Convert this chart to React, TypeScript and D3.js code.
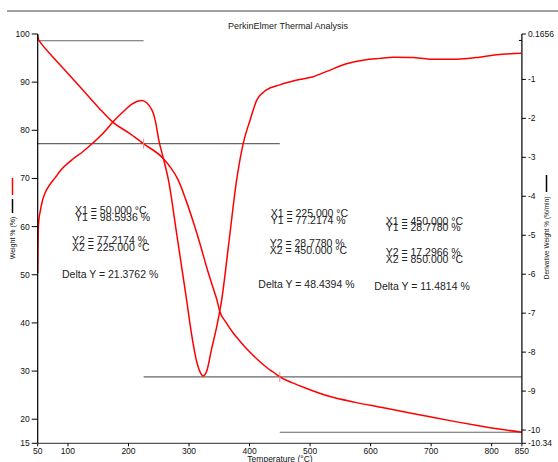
import React from "react";
import * as d3 from "d3";

const W = 558;
const H = 462;

// Weight % (TG) curve: [temperature °C, weight %]
const tgTemp = [50, 51, 53, 56, 75, 100, 125, 150, 175, 200, 225, 257, 270, 282, 295, 307, 318, 330, 340, 346, 351, 360, 373, 387, 400, 414, 428, 440, 450, 470, 490, 533, 575, 616, 657, 698, 740, 781, 815, 850];
const tgWeight = [99.9, 99.0, 98.5, 98.0, 95.2, 91.8, 88.3, 84.8, 81.6, 79.5, 77.2, 74.2, 72.2, 69.7, 65.5, 61.0, 56.5, 51.2, 47.2, 44.8, 42.3, 40.3, 37.9, 35.8, 34.0, 32.3, 30.8, 29.7, 28.8, 27.6, 26.6, 24.7, 23.5, 22.5, 21.5, 20.5, 19.5, 18.6, 17.9, 17.3];

// Derivative weight (DTG) curve: [temperature °C, %/min]
const dtgTemp = [50, 50.3, 50.8, 52, 54, 58, 62, 70, 79, 87, 106, 125, 142, 160, 175, 190, 205, 215, 222, 230, 237, 241, 244, 250, 257.5, 266, 280, 296, 304, 312, 318, 323.5, 330, 337, 345.7, 354, 365, 378.7, 389.6, 401, 412, 428, 450, 475, 505, 530, 560, 590, 615, 637, 670, 698, 742, 780, 808, 849];
const dtgValue = [-5.97, -5.4, -4.9, -4.6, -4.4, -4.1, -3.92, -3.7, -3.52, -3.35, -3.07, -2.85, -2.62, -2.35, -2.08, -1.85, -1.64, -1.56, -1.54, -1.6, -1.74, -1.87, -2.04, -2.55, -3.02, -3.58, -5.0, -6.66, -7.52, -8.2, -8.5, -8.61, -8.45, -7.94, -7.35, -6.66, -5.3, -3.58, -2.64, -2.04, -1.53, -1.27, -1.14, -1.03, -0.93, -0.78, -0.6, -0.5, -0.46, -0.43, -0.44, -0.48, -0.48, -0.43, -0.37, -0.33];

// Delta Y analysis reference lines: [from °C, to °C, weight %]
const refFrom = [50, 50, 225, 450];
const refTo = [225, 450, 850, 850];
const refWeight = [98.5936, 77.2174, 28.778, 17.2966];

// Marker ticks on the TG curve
const markTemp = [225, 450];
const markWeight = [77.2174, 28.778];

const xTicks = [50, 100, 200, 300, 400, 500, 600, 700, 800, 850];
const yLeftTicks = [100, 90, 80, 70, 60, 50, 40, 30, 20, 15];
const yRightTicks = [0.1656, -1, -2, -3, -4, -5, -6, -7, -8, -9, -10, -10.34];
const yRightLabels = ["0.1656", "-1", "-2", "-3", "-4", "-5", "-6", "-7", "-8", "-9", "-10", "-10.34"];

// Annotation blocks
const blocks = [
  { lines: ["X1 = 50.000 °C", "Y1 = 98.5936 %", "Y2 = 77.2174 %", "X2 = 225.000 °C"], delta: "Delta Y = 21.3762 %" },
  { lines: ["X1 = 225.000 °C", "Y1 = 77.2174 %", "Y2 = 28.7780 %", "X2 = 450.000 °C"], delta: "Delta Y = 48.4394 %" },
  { lines: ["X1 = 450.000 °C", "Y1 = 28.7780 %", "Y2 = 17.2966 %", "X2 = 850.000 °C"], delta: "Delta Y = 11.4814 %" },
];

const FONT = "'Liberation Sans', Arial, sans-serif";

export default function App() {
  const x = d3.scaleLinear().domain([50, 850]).range([37.7, 521.9]);
  const yL = d3.scaleLinear().domain([15, 100]).range([443.3, 34]);
  const yR = d3.scaleLinear().domain([-10.34, 0.1656]).range([443.3, 34]);

  const tgLine = d3
    .line<number>()
    .x((_, i) => x(tgTemp[i]))
    .y((_, i) => yL(tgWeight[i]))
    .curve(d3.curveMonotoneX);
  const dtgLine = d3
    .line<number>()
    .x((_, i) => x(dtgTemp[i]))
    .y((_, i) => yR(dtgValue[i]))
    .curve(d3.curveMonotoneX);

  const blockPos = [
    { x: 75, y: [213.5, 220.8, 244.2, 251.2], dx: -13, dy: 277.5, lx: [0, 0, -3, -3] },
    { x: 270.7, y: [216.8, 223.5, 246.8, 254.2], dx: -12.4, dy: 287.8, lx: [0, 0, -1, -1] },
    { x: 385.7, y: [225.2, 231.2, 255.5, 262.5], dx: -11.4, dy: 290.2, lx: [0, 0, 0, 0] },
  ];

  const x0 = x(50);
  const x1 = x(850);
  const yb = yL(15);
  const yt = yL(100);

  return (
    <div style={{ position: "absolute", left: 0, top: 0 }}>
      <svg width={W} height={H} style={{ display: "block", background: "#fff" }} fontFamily={FONT}>
        <line x1={7} x2={558} y1={11} y2={11} stroke="#444" strokeWidth={1} />
        <text x={288} y={29} fontSize={9} textAnchor="middle" fill="#222">
          PerkinElmer Thermal Analysis
        </text>

        {/* reference lines */}
        {refFrom.map((f, i) => (
          <line key={"r" + i} x1={x(f)} x2={x(refTo[i])} y1={yL(refWeight[i])} y2={yL(refWeight[i])} stroke="#666" strokeWidth={1.2} />
        ))}

        {/* curves */}
        <path d={tgLine(tgTemp) || ""} fill="none" stroke="#ff0000" strokeWidth={1.5} />
        <path d={dtgLine(dtgTemp) || ""} fill="none" stroke="#ff0000" strokeWidth={1.5} />

        {markTemp.map((t, i) => (
          <line key={"m" + i} x1={x(t)} x2={x(t)} y1={yL(markWeight[i]) - 5} y2={yL(markWeight[i]) + 5} stroke="#e88" strokeWidth={1} />
        ))}

        {/* left axis */}
        <line x1={x0} x2={x0} y1={yt} y2={yb} stroke="#000" strokeWidth={1.2} />
        {yLeftTicks.map((v) => (
          <g key={"yl" + v}>
            <line x1={x0 - 6} x2={x0} y1={yL(v)} y2={yL(v)} stroke="#000" />
            <text x={x0 - 8} y={yL(v) + 3} fontSize={8.5} textAnchor="end" fill="#111">
              {v}
            </text>
          </g>
        ))}

        {/* right axis */}
        <line x1={x1} x2={x1} y1={yt} y2={yb} stroke="#000" strokeWidth={1.2} />
        <line x1={x1} x2={x1 - 3} y1={yR(0)} y2={yR(0)} stroke="#000" />
        {yRightTicks.map((v, i) => (
          <g key={"yr" + i}>
            <line x1={x1} x2={x1 + 4} y1={yR(v)} y2={yR(v)} stroke="#000" />
            <text x={x1 + 6} y={yR(v) + 3} fontSize={8.5} textAnchor="start" fill="#111">
              {yRightLabels[i]}
            </text>
          </g>
        ))}

        {/* bottom axis */}
        <line x1={x0} x2={x1} y1={yb} y2={yb} stroke="#555" strokeWidth={1.2} />
        {xTicks.map((v) => (
          <g key={"x" + v}>
            <line x1={x(v)} x2={x(v)} y1={yb} y2={yb + 3} stroke="#000" />
            <text x={x(v)} y={454} fontSize={8.5} textAnchor="middle" fill="#111">
              {v}
            </text>
          </g>
        ))}
        <text x={280} y={461.5} fontSize={8.5} textAnchor="middle" fill="#111">
          Temperature (°C)
        </text>

        {/* left axis title with legend marks */}
        <line x1={12.5} x2={12.5} y1={178} y2={195} stroke="#ff0000" strokeWidth={1.5} />
        <line x1={12.5} x2={12.5} y1={199} y2={213} stroke="#000" strokeWidth={1.5} />
        <text transform="translate(15.2,238) rotate(-90)" fontSize={7} textAnchor="middle" fill="#111">
          Weight % (%)
        </text>

        {/* right axis title with legend mark */}
        <line x1={546.5} x2={546.5} y1={175} y2={192} stroke="#000" strokeWidth={1.5} />
        <text transform="translate(549,238) rotate(-90)" fontSize={6.5} textAnchor="middle" fill="#111">
          Derivative Weight % (%/min)
        </text>

        {/* annotations */}
        {blocks.map((b, bi) => (
          <g key={"b" + bi} fontSize={10.5} fill="#222">
            {b.lines.map((l, li) => (
              <text key={li} x={blockPos[bi].x + blockPos[bi].lx[li]} y={blockPos[bi].y[li]}>
                {l}
              </text>
            ))}
            <text x={blockPos[bi].x + blockPos[bi].dx} y={blockPos[bi].dy}>
              {b.delta}
            </text>
          </g>
        ))}
      </svg>
    </div>
  );
}
